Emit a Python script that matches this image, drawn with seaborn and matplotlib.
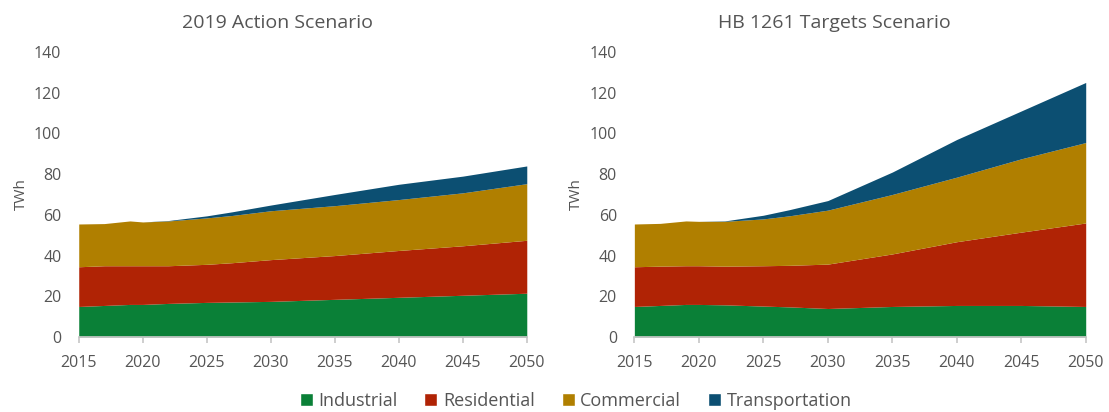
import matplotlib
matplotlib.use("Agg")
import matplotlib.pyplot as plt
import seaborn as sns
import pandas as pd
from matplotlib.patches import Patch

# years
years = [2015, 2017, 2019, 2020, 2022, 2025, 2027, 2030, 2035, 2040, 2045, 2050]
sectors = ["Industrial", "Residential", "Commercial", "Transportation"]

# 2019 Action Scenario (TWh, per sector)
action_industrial = [15, 15.5, 16, 16, 16.5, 17, 17.2, 17.5, 18.5, 19.5, 20.5, 21.5]
action_residential = [19.5, 19.5, 19, 19, 18.5, 18.7, 19.3, 20.5, 21.5, 23, 24.3, 26]
action_commercial = [21, 20.7, 22, 21.5, 22, 22.8, 23.2, 24, 24.5, 25, 26, 27.8]
action_transport = [0, 0, 0, 0, 0.2, 1, 1.8, 2.8, 5.5, 7.5, 8.2, 8.7]

# HB 1261 Targets Scenario (TWh, per sector)
hb_industrial = [15, 15.5, 16, 16, 15.8, 15.2, 14.8, 14, 15, 15.5, 15.5, 15]
hb_residential = [19.5, 19.3, 19, 19, 19, 19.8, 20.4, 21.8, 25.8, 31.3, 36, 41]
hb_commercial = [21, 21, 22, 21.8, 22, 23, 24.3, 26.5, 29.2, 31.7, 36, 39.5]
hb_transport = [0, 0, 0, 0, 0.2, 1.8, 3, 4.7, 11, 18.5, 23.5, 29.5]

colors = ["#0a8037", "#b02305", "#b07f00", "#0c4f72"]
text_gray = "#555555"

sns.set_theme(style="white")
plt.rcParams["font.family"] = ["Open Sans", "DejaVu Sans"]

df_action = pd.DataFrame({"Industrial": action_industrial, "Residential": action_residential,
                          "Commercial": action_commercial, "Transportation": action_transport}, index=years)
df_hb = pd.DataFrame({"Industrial": hb_industrial, "Residential": hb_residential,
                      "Commercial": hb_commercial, "Transportation": hb_transport}, index=years)

fig = plt.figure(figsize=(11.09, 4.12), dpi=100)
ax1 = fig.add_axes([0.071, 0.182, 0.404, 0.692])
ax2 = fig.add_axes([0.572, 0.182, 0.407, 0.692])

for ax, df, title in [(ax1, df_action, "2019 Action Scenario"), (ax2, df_hb, "HB 1261 Targets Scenario")]:
    ax.stackplot(df.index, [df[s] for s in sectors], colors=colors, linewidth=0)
    ax.set_xlim(2015, 2050)
    ax.set_ylim(0, 140)
    ax.set_xticks(range(2015, 2051, 5))
    ax.set_yticks(range(0, 141, 20))
    ax.set_ylabel("TWh", color=text_gray, fontsize=11)
    ax.set_title(title, color=text_gray, fontsize=14, pad=17.5, x=0.444)
    for side in ["top", "right", "left"]:
        ax.spines[side].set_visible(False)
    ax.spines["bottom"].set_color("#c8c8c8")
    ax.tick_params(axis="x", colors=text_gray, labelsize=11.5, length=4, color="#c8c8c8", bottom=True, pad=9)
    ax.tick_params(axis="y", colors=text_gray, labelsize=11.5, length=0, pad=12.5)
    ax.grid(False)

handles = [Patch(facecolor=c, label=s) for c, s in zip(colors, sectors)]
fig.legend(handles=handles, loc="lower center", ncol=4, frameon=False, fontsize=13,
           bbox_to_anchor=(0.519, -0.034), handlelength=0.72, handleheight=0.72,
           handletextpad=0.3, columnspacing=1.5, labelcolor=text_gray)

fig.savefig("out.png", dpi=100)
